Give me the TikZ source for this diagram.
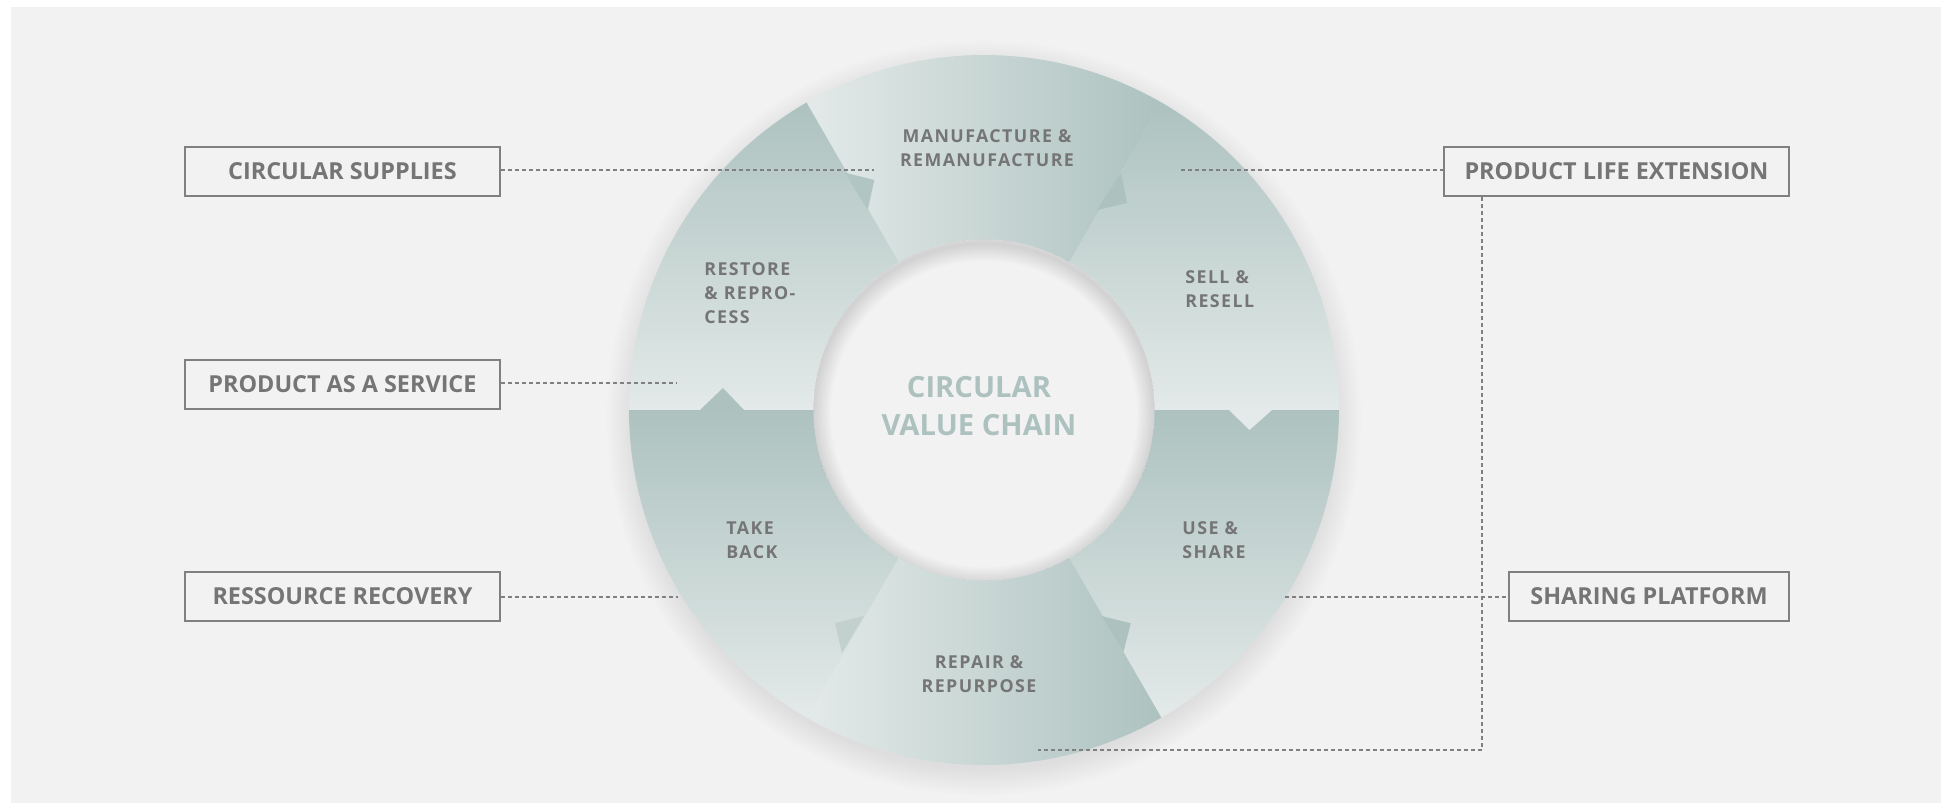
\documentclass[tikz,border=0pt]{standalone}
\usepackage{fontspec}
\setmainfont{Open Sans}
\definecolor{bg}{HTML}{F2F2F2}
\definecolor{dk}{HTML}{ADC2BF}
\definecolor{lt}{HTML}{E3EAE9}
\definecolor{md}{HTML}{C2D1CE}
\definecolor{tx}{HTML}{757575}
\definecolor{bx}{HTML}{808080}
\definecolor{ct}{HTML}{ADC2BF}
\begin{document}
\begin{tikzpicture}[x=0.5pt,y=0.5pt,
  segtext/.style={font=\bfseries\fontsize{8.9}{12}\selectfont\addfontfeatures{LetterSpace=8}, text=tx, inner sep=0pt},
  labelbox/.style={draw=bx, line width=1pt, fill=bg, minimum height=24.5pt, inner sep=0pt,
    font=\bfseries\fontsize{11.7}{14}\selectfont, text=tx},
  leader/.style={draw=bx, line width=0.6pt, dash pattern=on 2pt off 1.5pt}
]
\useasboundingbox (-984,-393) rectangle (968,410);
\fill[white] (-984,-393) rectangle (968,410);
\fill[bg] (-973,-393) rectangle (957,403);

% outer soft shadow
\foreach \i in {1,...,20} {
  \fill[black, fill opacity=0.0055] (0,-8) circle ({350+1.4*\i});
}

% segments
\def\Ro{355}
\def\Ri{170.5}
% top: manufacture
\shade[left color=lt, right color=dk] (60:\Ro) arc[start angle=60, end angle=120, radius=\Ro] -- (120:\Ri) arc[start angle=120, end angle=60, radius=\Ri] -- cycle;
% bottom: repair
\shade[left color=lt, right color=dk] (240:\Ro) arc[start angle=240, end angle=300, radius=\Ro] -- (300:\Ri) arc[start angle=300, end angle=240, radius=\Ri] -- cycle;
% upper left: restore
\shade[top color=dk, bottom color=lt] (120:\Ro) arc[start angle=120, end angle=180, radius=\Ro] -- (180:\Ri) arc[start angle=180, end angle=120, radius=\Ri] -- cycle;
% lower left: take back
\shade[top color=dk, bottom color=lt] (180:\Ro) arc[start angle=180, end angle=240, radius=\Ro] -- (240:\Ri) arc[start angle=240, end angle=180, radius=\Ri] -- cycle;
% upper right: sell
\shade[top color=dk, bottom color=lt] (0:\Ro) arc[start angle=0, end angle=60, radius=\Ro] -- (60:\Ri) arc[start angle=60, end angle=0, radius=\Ri] -- cycle;
% lower right: use
\shade[top color=dk, bottom color=lt] (300:\Ro) arc[start angle=300, end angle=360, radius=\Ro] -- (360:\Ri) arc[start angle=360, end angle=300, radius=\Ri] -- cycle;

% arrow tips between segments
\fill[dk] (-284,0) -- (-240,0) -- (-261,22) -- cycle;
\fill[lt] (245,0) -- (288,0) -- (265.5,-20) -- cycle;
\fill[color=dk!92!lt] (-139,237.3) -- (-116.3,200) -- (-109.7,230) -- cycle;
\fill[dk] (137,237) -- (113,200) -- (143,207) -- cycle;
\fill[md] (-120,-206) -- (-142,-243) -- (-149,-213) -- cycle;
\fill[dk] (117.7,-206) -- (139.5,-241.7) -- (146.8,-213.3) -- cycle;

% inner circle with inner shadow
\fill[bg] (0,0) circle (\Ri);
\begin{scope}
  \clip (0,0) circle (\Ri);
  \foreach \i in {1,...,16} {
    \draw[black, draw opacity=0.0065, line width={\i*1.1pt}] (0,-4) circle (\Ri);
  }
\end{scope}

% ring texts
\node[segtext, align=center] (mfg) at (3,262) {MANUFACTURE \&\\REMANUFACTURE};
\node[segtext, align=left, anchor=west] (restore) at (-280,117) {RESTORE\\\& REPRO-\\CESS};
\node[segtext, align=left, anchor=west] (sell) at (201,121) {SELL \&\\RESELL};
\node[segtext, align=left, anchor=west] (take) at (-258,-130) {TAKE\\BACK};
\node[segtext, align=left, anchor=west] (use) at (198,-130) {USE \&\\SHARE};
\node[segtext, align=center] (repair) at (-5,-264) {REPAIR \&\\REPURPOSE};
\node[font=\bfseries\fontsize{14.6}{19}\selectfont, text=ct, align=center, inner sep=0pt] (center) at (-5,4) {CIRCULAR\\VALUE CHAIN};

% label boxes
\node[labelbox, minimum width=157.5pt] (cs) at (-641.5,238.5) {CIRCULAR SUPPLIES};
\node[labelbox, minimum width=157.5pt] (paas) at (-641.5,25.5) {PRODUCT AS A SERVICE};
\node[labelbox, minimum width=157.5pt] (rr) at (-641.5,-186.5) {RESSOURCE RECOVERY};
\node[labelbox, minimum width=172.5pt] (ple) at (632.5,238.5) {PRODUCT LIFE EXTENSION};
\node[labelbox, minimum width=140pt] (sp) at (665,-186.5) {SHARING PLATFORM};

% leader lines
\coordinate (csend) at (-110,240);
\coordinate (pleend) at (197,240);
\coordinate (paasend) at (-307,27);
\coordinate (rrend) at (-306,-187);
\coordinate (spend) at (301,-187);
\coordinate (corner) at (498,-340);
\coordinate (repend) at (54,-340);

\draw[leader] (cs.east |- csend) -- (csend);
\draw[leader] (pleend) -- (ple.west |- pleend);
\draw[leader] (paas.east |- paasend) -- (paasend);
\draw[leader] (rr.east |- rrend) -- (rrend);
\draw[leader] (spend) -- (sp.west |- spend);
\draw[leader] (ple.south -| corner) -- (corner) -- (repend);
\end{tikzpicture}
\end{document}
